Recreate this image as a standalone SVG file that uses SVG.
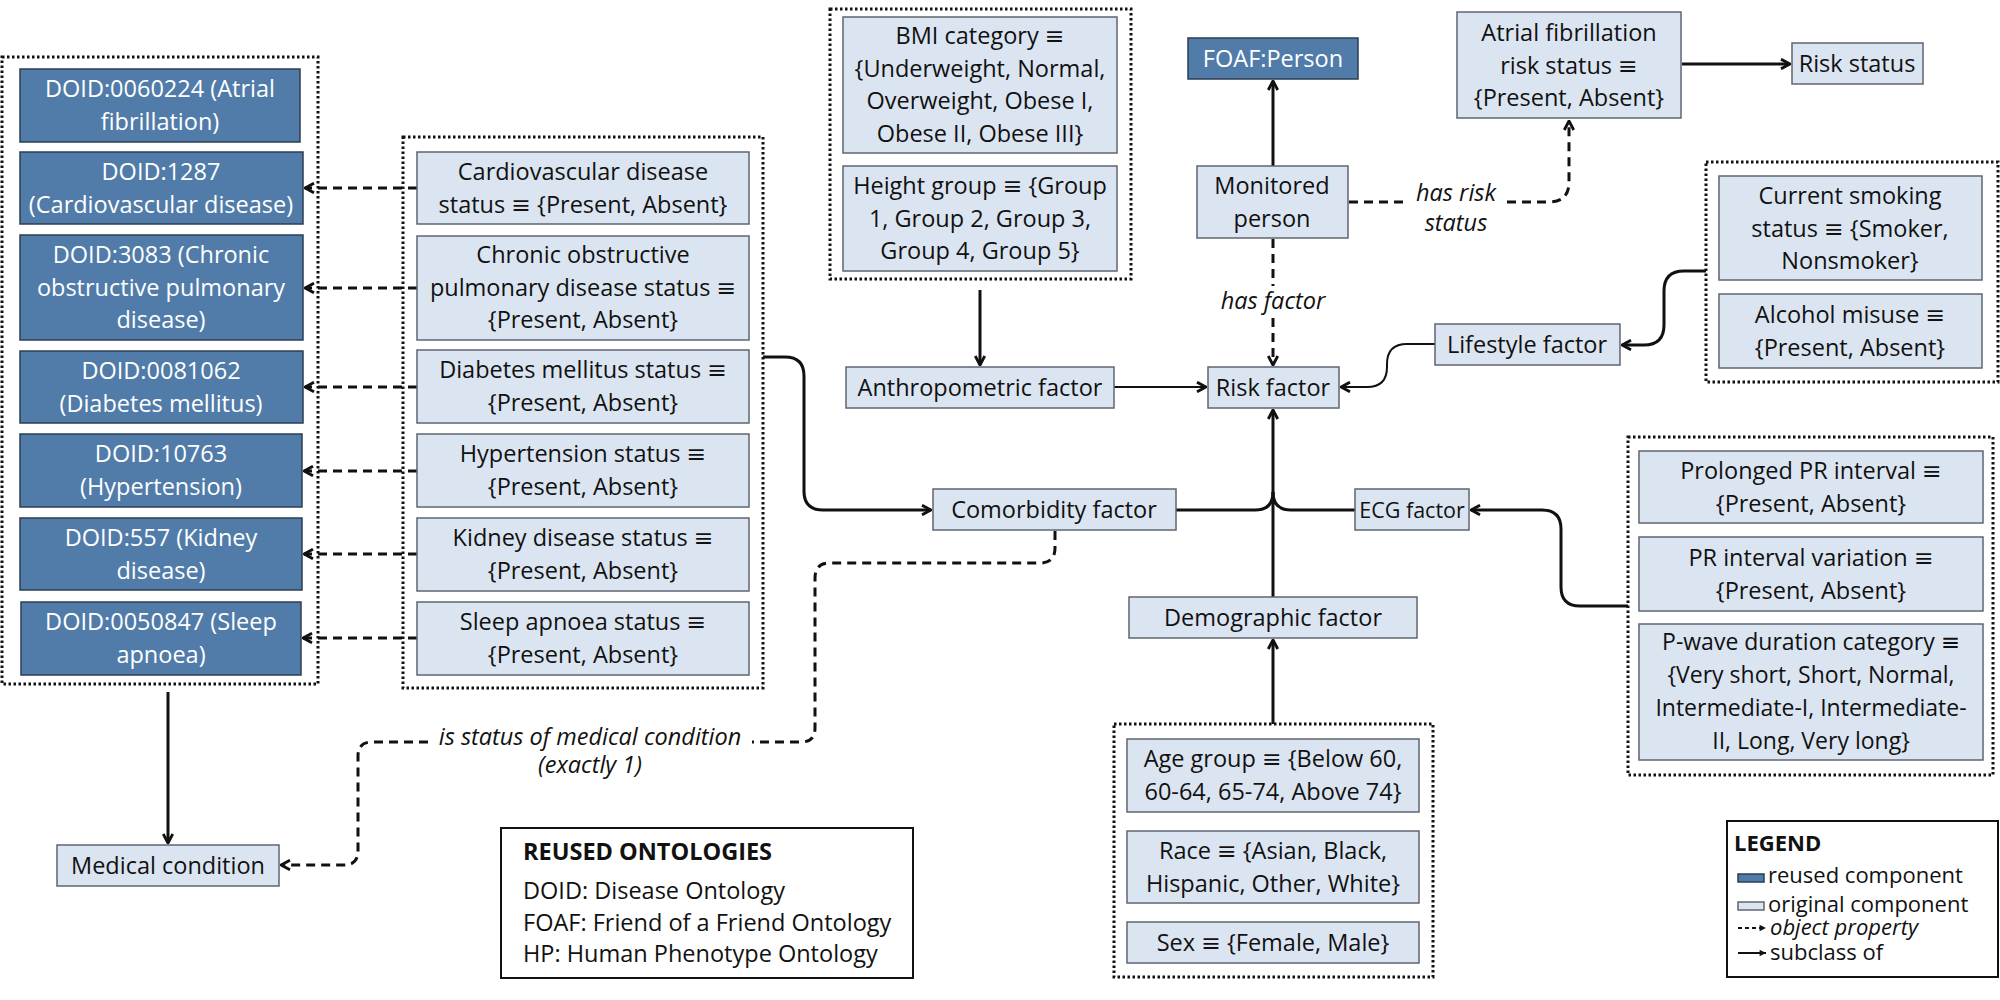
<svg xmlns="http://www.w3.org/2000/svg" width="2000" height="1000" viewBox="0 0 2000 1000">
  <style>
    text { font-family: "Open Sans", "DejaVu Sans", sans-serif; font-size: 23.5px; fill: #111; }
    .c { text-anchor: middle; }
    .w { fill: #ffffff; }
    .it { font-style: italic; }
    .b { font-weight: 700; }
    .lg { font-size: 22px; }
    .reused { fill: #517ca9; stroke: #2c3e52; stroke-width: 1.5; }
    .orig { fill: #dbe5f1; stroke: #5f6670; stroke-width: 1.5; }
    .grp { fill: none; stroke: #111; stroke-width: 3; stroke-dasharray: 2.5 2.5; }
    .solid { fill: none; stroke: #111; stroke-width: 3; }
    .thin { fill: none; stroke: #111; stroke-width: 2; }
    .dash { fill: none; stroke: #111; stroke-width: 3; stroke-dasharray: 9 6; }
    .frame { fill: #ffffff; stroke: #111; stroke-width: 2; }
  </style>
  <defs>
    <marker id="arr" viewBox="0 0 10 10" refX="9" refY="5" markerWidth="12" markerHeight="12" markerUnits="userSpaceOnUse" orient="auto">
      <path d="M1.5,1 L9,5 L1.5,9" fill="none" stroke="#111" stroke-width="2.4"/>
    </marker>
    <marker id="arrSmall" viewBox="0 0 10 10" refX="9" refY="5" markerWidth="8" markerHeight="8" markerUnits="userSpaceOnUse" orient="auto">
      <path d="M1,1 L9,5 L1,9 Z" fill="#111"/>
    </marker>
  </defs>

  <rect width="2000" height="1000" fill="#ffffff"/>

  <!-- dotted grouping frames -->
  <g id="groups">
    <rect class="grp" x="2" y="57" width="316" height="627"/>
    <rect class="grp" x="403" y="137" width="360" height="551"/>
    <rect class="grp" x="830" y="9" width="301" height="270"/>
    <rect class="grp" x="1706" y="162" width="292" height="220"/>
    <rect class="grp" x="1628" y="437" width="365" height="338"/>
    <rect class="grp" x="1114" y="724" width="319" height="253"/>
  </g>

  <!-- connectors -->
  <g id="connectors">
    <!-- status -> disease (object property) -->
    <path class="dash" d="M417,188 H305" marker-end="url(#arr)"/>
    <path class="dash" d="M417,288 H305" marker-end="url(#arr)"/>
    <path class="dash" d="M417,387 H305" marker-end="url(#arr)"/>
    <path class="dash" d="M417,471 H304" marker-end="url(#arr)"/>
    <path class="dash" d="M417,554 H304" marker-end="url(#arr)"/>
    <path class="dash" d="M417,638 H303" marker-end="url(#arr)"/>
    <!-- disease group -> Medical condition -->
    <path class="solid" d="M168,692 V843" stroke-width="2.5" marker-end="url(#arr)"/>
    <!-- status group -> Comorbidity factor -->
    <path class="solid" d="M763,357 H785 Q804,357 804,376 V491 Q804,510 823,510 H931" marker-end="url(#arr)"/>
    <!-- Comorbidity factor -> Medical condition -->
    <path class="dash" d="M1055,531 V548 Q1055,563 1040,563 H830 Q815,563 815,578 V728 Q815,742 801,742 H752"/>
    <path class="dash" d="M428,742 H372 Q358,742 358,756 V851 Q358,865 344,865 H281" marker-end="url(#arr)"/>
    <!-- BMI group -> Anthropometric factor -->
    <path class="solid" d="M980,290 V365" marker-end="url(#arr)"/>
    <!-- Anthropometric -> Risk factor -->
    <path class="thin" d="M1114,387 H1206" marker-end="url(#arr)"/>
    <!-- Monitored person -> FOAF:Person -->
    <path class="solid" d="M1273,166 V81" marker-end="url(#arr)"/>
    <!-- has factor -->
    <path class="dash" d="M1273,239 V286"/>
    <path class="dash" d="M1273,318 V365" marker-end="url(#arr)"/>
    <!-- has risk status -->
    <path class="dash" d="M1349,202 H1405"/>
    <path class="dash" d="M1507,202 H1549 Q1569,202 1569,182 V121" marker-end="url(#arr)"/>
    <!-- AF risk status -> Risk status -->
    <path class="solid" d="M1682,64 H1790" marker-end="url(#arr)"/>
    <!-- Lifestyle group -> Lifestyle factor -->
    <path class="solid" d="M1706,271 H1684 Q1664,271 1664,291 V325 Q1664,345 1644,345 H1622" marker-end="url(#arr)"/>
    <!-- Lifestyle factor -> Risk factor -->
    <path class="thin" d="M1435,344 H1407 Q1387,344 1387,364 V367 Q1387,387 1367,387 H1341" marker-end="url(#arr)"/>
    <!-- Comorbidity / ECG / Demographic -> Risk factor -->
    <path class="solid" d="M1176,510 H1255 Q1273,510 1273,492"/>
    <path class="solid" d="M1355,510 H1291 Q1273,510 1273,492"/>
    <path class="solid" d="M1273,597 V410" marker-end="url(#arr)"/>
    <!-- ECG group -> ECG factor -->
    <path class="solid" d="M1628,606 H1580 Q1561,606 1561,587 V529 Q1561,510 1542,510 H1471" marker-end="url(#arr)"/>
    <!-- Demographic group -> Demographic factor -->
    <path class="solid" d="M1273,724 V640" marker-end="url(#arr)"/>
  </g>

  <!-- connector labels -->
  <g id="labels">
    <text class="c it" x="1273" y="309">has factor</text>
    <text class="c it" x="1456" y="201">has risk</text>
    <text class="c it" x="1456" y="231">status</text>
    <text class="c it" x="590" y="745">is status of medical condition</text>
    <text class="c it" x="590" y="773">(exactly 1)</text>
  </g>

  <!-- reused disease classes -->
  <g id="doid-af">
    <rect class="reused" x="20" y="69" width="280" height="73"/>
    <text class="c w" x="160" y="97">DOID:0060224 (Atrial<tspan x="160" dy="32.5">fibrillation)</tspan></text>
  </g>
  <g id="doid-cvd">
    <rect class="reused" x="20" y="152" width="283" height="72"/>
    <text class="c w" x="161" y="180">DOID:1287<tspan x="161" dy="32.5">(Cardiovascular disease)</tspan></text>
  </g>
  <g id="doid-copd">
    <rect class="reused" x="20" y="235" width="283" height="105"/>
    <text class="c w" x="161" y="263">DOID:3083 (Chronic<tspan x="161" dy="32.5">obstructive pulmonary</tspan><tspan x="161" dy="32.5">disease)</tspan></text>
  </g>
  <g id="doid-dm">
    <rect class="reused" x="20" y="351" width="283" height="72"/>
    <text class="c w" x="161" y="379">DOID:0081062<tspan x="161" dy="32.5">(Diabetes mellitus)</tspan></text>
  </g>
  <g id="doid-htn">
    <rect class="reused" x="20" y="434" width="282" height="73"/>
    <text class="c w" x="161" y="462">DOID:10763<tspan x="161" dy="32.5">(Hypertension)</tspan></text>
  </g>
  <g id="doid-kd">
    <rect class="reused" x="20" y="518" width="282" height="72"/>
    <text class="c w" x="161" y="546">DOID:557 (Kidney<tspan x="161" dy="32.5">disease)</tspan></text>
  </g>
  <g id="doid-sa">
    <rect class="reused" x="21" y="602" width="280" height="73"/>
    <text class="c w" x="161" y="630">DOID:0050847 (Sleep<tspan x="161" dy="32.5">apnoea)</tspan></text>
  </g>

  <!-- comorbidity statuses -->
  <g id="status-cvd">
    <rect class="orig" x="417" y="152" width="332" height="72"/>
    <text class="c" x="583" y="180">Cardiovascular disease<tspan x="583" dy="32.5">status ≡ {Present, Absent}</tspan></text>
  </g>
  <g id="status-copd">
    <rect class="orig" x="417" y="236" width="332" height="104"/>
    <text class="c" x="583" y="263">Chronic obstructive<tspan x="583" dy="32.5">pulmonary disease status ≡</tspan><tspan x="583" dy="32.5">{Present, Absent}</tspan></text>
  </g>
  <g id="status-dm">
    <rect class="orig" x="417" y="350" width="332" height="73"/>
    <text class="c" x="583" y="378">Diabetes mellitus status ≡<tspan x="583" dy="32.5">{Present, Absent}</tspan></text>
  </g>
  <g id="status-htn">
    <rect class="orig" x="417" y="434" width="332" height="73"/>
    <text class="c" x="583" y="462">Hypertension status ≡<tspan x="583" dy="32.5">{Present, Absent}</tspan></text>
  </g>
  <g id="status-kd">
    <rect class="orig" x="417" y="518" width="332" height="73"/>
    <text class="c" x="583" y="546">Kidney disease status ≡<tspan x="583" dy="32.5">{Present, Absent}</tspan></text>
  </g>
  <g id="status-sa">
    <rect class="orig" x="417" y="602" width="332" height="73"/>
    <text class="c" x="583" y="630">Sleep apnoea status ≡<tspan x="583" dy="32.5">{Present, Absent}</tspan></text>
  </g>

  <!-- anthropometric values -->
  <g id="bmi">
    <rect class="orig" x="843" y="17" width="274" height="136"/>
    <text class="c" x="980" y="44">BMI category ≡<tspan x="980" dy="32.5">{Underweight, Normal,</tspan><tspan x="980" dy="32.5">Overweight, Obese I,</tspan><tspan x="980" dy="32.5">Obese II, Obese III}</tspan></text>
  </g>
  <g id="height">
    <rect class="orig" x="843" y="166" width="274" height="105"/>
    <text class="c" x="980" y="194">Height group ≡ {Group<tspan x="980" dy="32.5">1, Group 2, Group 3,</tspan><tspan x="980" dy="32.5">Group 4, Group 5}</tspan></text>
  </g>

  <g id="foaf-person">
    <rect class="reused" x="1188" y="38" width="170" height="41"/>
    <text class="c w" x="1273" y="67">FOAF:Person</text>
  </g>
  <g id="monitored-person">
    <rect class="orig" x="1197" y="166" width="151" height="72"/>
    <text class="c" x="1272" y="194">Monitored<tspan x="1272" dy="32.5">person</tspan></text>
  </g>
  <g id="af-risk-status">
    <rect class="orig" x="1457" y="12" width="224" height="106"/>
    <text class="c" x="1569" y="41">Atrial fibrillation<tspan x="1569" dy="32.5">risk status ≡</tspan><tspan x="1569" dy="32.5">{Present, Absent}</tspan></text>
  </g>
  <g id="risk-status">
    <rect class="orig" x="1792" y="43" width="131" height="41"/>
    <text class="c" x="1857" y="72">Risk status</text>
  </g>

  <!-- lifestyle values -->
  <g id="smoking">
    <rect class="orig" x="1719" y="176" width="263" height="104"/>
    <text class="c" x="1850" y="204">Current smoking<tspan x="1850" dy="32.5">status ≡ {Smoker,</tspan><tspan x="1850" dy="32.5">Nonsmoker}</tspan></text>
  </g>
  <g id="alcohol">
    <rect class="orig" x="1719" y="294" width="263" height="74"/>
    <text class="c" x="1850" y="323">Alcohol misuse ≡<tspan x="1850" dy="32.5">{Present, Absent}</tspan></text>
  </g>
  <g id="lifestyle-factor">
    <rect class="orig" x="1435" y="324" width="185" height="41"/>
    <text class="c" x="1527" y="353">Lifestyle factor</text>
  </g>

  <!-- factors -->
  <g id="anthropometric-factor">
    <rect class="orig" x="846" y="367" width="268" height="41"/>
    <text class="c" x="980" y="396">Anthropometric factor</text>
  </g>
  <g id="risk-factor">
    <rect class="orig" x="1208" y="367" width="131" height="41"/>
    <text class="c" x="1273" y="396">Risk factor</text>
  </g>
  <g id="comorbidity-factor">
    <rect class="orig" x="933" y="489" width="243" height="41"/>
    <text class="c" x="1054" y="518">Comorbidity factor</text>
  </g>
  <g id="ecg-factor">
    <rect class="orig" x="1355" y="489" width="114" height="41"/>
    <text class="c" x="1412" y="517.5" style="font-size:21.5px">ECG factor</text>
  </g>
  <g id="demographic-factor">
    <rect class="orig" x="1129" y="597" width="288" height="41"/>
    <text class="c" x="1273" y="626">Demographic factor</text>
  </g>

  <!-- ECG values -->
  <g id="prolonged-pr">
    <rect class="orig" x="1639" y="451" width="344" height="72"/>
    <text class="c" x="1811" y="479">Prolonged PR interval ≡<tspan x="1811" dy="32.5">{Present, Absent}</tspan></text>
  </g>
  <g id="pr-variation">
    <rect class="orig" x="1639" y="537" width="344" height="74"/>
    <text class="c" x="1811" y="566">PR interval variation ≡<tspan x="1811" dy="32.5">{Present, Absent}</tspan></text>
  </g>
  <g id="p-wave">
    <rect class="orig" x="1639" y="624" width="344" height="136"/>
    <text class="c" x="1811" y="650" style="font-size:23px">P-wave duration category ≡<tspan x="1811" dy="33">{Very short, Short, Normal,</tspan><tspan x="1811" dy="33">Intermediate-I, Intermediate-</tspan><tspan x="1811" dy="33">II, Long, Very long}</tspan></text>
  </g>

  <!-- demographic values -->
  <g id="age-group">
    <rect class="orig" x="1127" y="739" width="292" height="73"/>
    <text class="c" x="1273" y="767">Age group ≡ {Below 60,<tspan x="1273" dy="32.5">60-64, 65-74, Above 74}</tspan></text>
  </g>
  <g id="race">
    <rect class="orig" x="1127" y="831" width="292" height="72"/>
    <text class="c" x="1273" y="859">Race ≡ {Asian, Black,<tspan x="1273" dy="32.5">Hispanic, Other, White}</tspan></text>
  </g>
  <g id="sex">
    <rect class="orig" x="1127" y="922" width="292" height="41"/>
    <text class="c" x="1273" y="951">Sex ≡ {Female, Male}</text>
  </g>

  <g id="medical-condition">
    <rect class="orig" x="57" y="845" width="222" height="41"/>
    <text class="c" x="168" y="874">Medical condition</text>
  </g>

  <!-- reused ontologies key -->
  <g id="reused-ontologies">
    <rect class="frame" x="501" y="828" width="412" height="150"/>
    <text class="b" x="523" y="860">REUSED ONTOLOGIES</text>
    <text x="523" y="899">DOID: Disease Ontology</text>
    <text x="523" y="931">FOAF: Friend of a Friend Ontology</text>
    <text x="523" y="962">HP: Human Phenotype Ontology</text>
  </g>

  <!-- legend -->
  <g id="legend">
    <rect class="frame" x="1727" y="821" width="271" height="156"/>
    <text class="b lg" x="1734" y="851">LEGEND</text>
    <rect class="reused" x="1738" y="874" width="26" height="8"/>
    <text class="lg" x="1768" y="883">reused component</text>
    <rect class="orig" x="1738" y="902" width="26" height="8"/>
    <text class="lg" x="1768" y="912">original component</text>
    <path d="M1738,928 H1766" fill="none" stroke="#111" stroke-width="2" stroke-dasharray="4 3" marker-end="url(#arrSmall)"/>
    <text class="lg it" x="1770" y="935">object property</text>
    <path d="M1738,953 H1766" fill="none" stroke="#111" stroke-width="2" marker-end="url(#arrSmall)"/>
    <text class="lg" x="1770" y="960">subclass of</text>
  </g>
</svg>
